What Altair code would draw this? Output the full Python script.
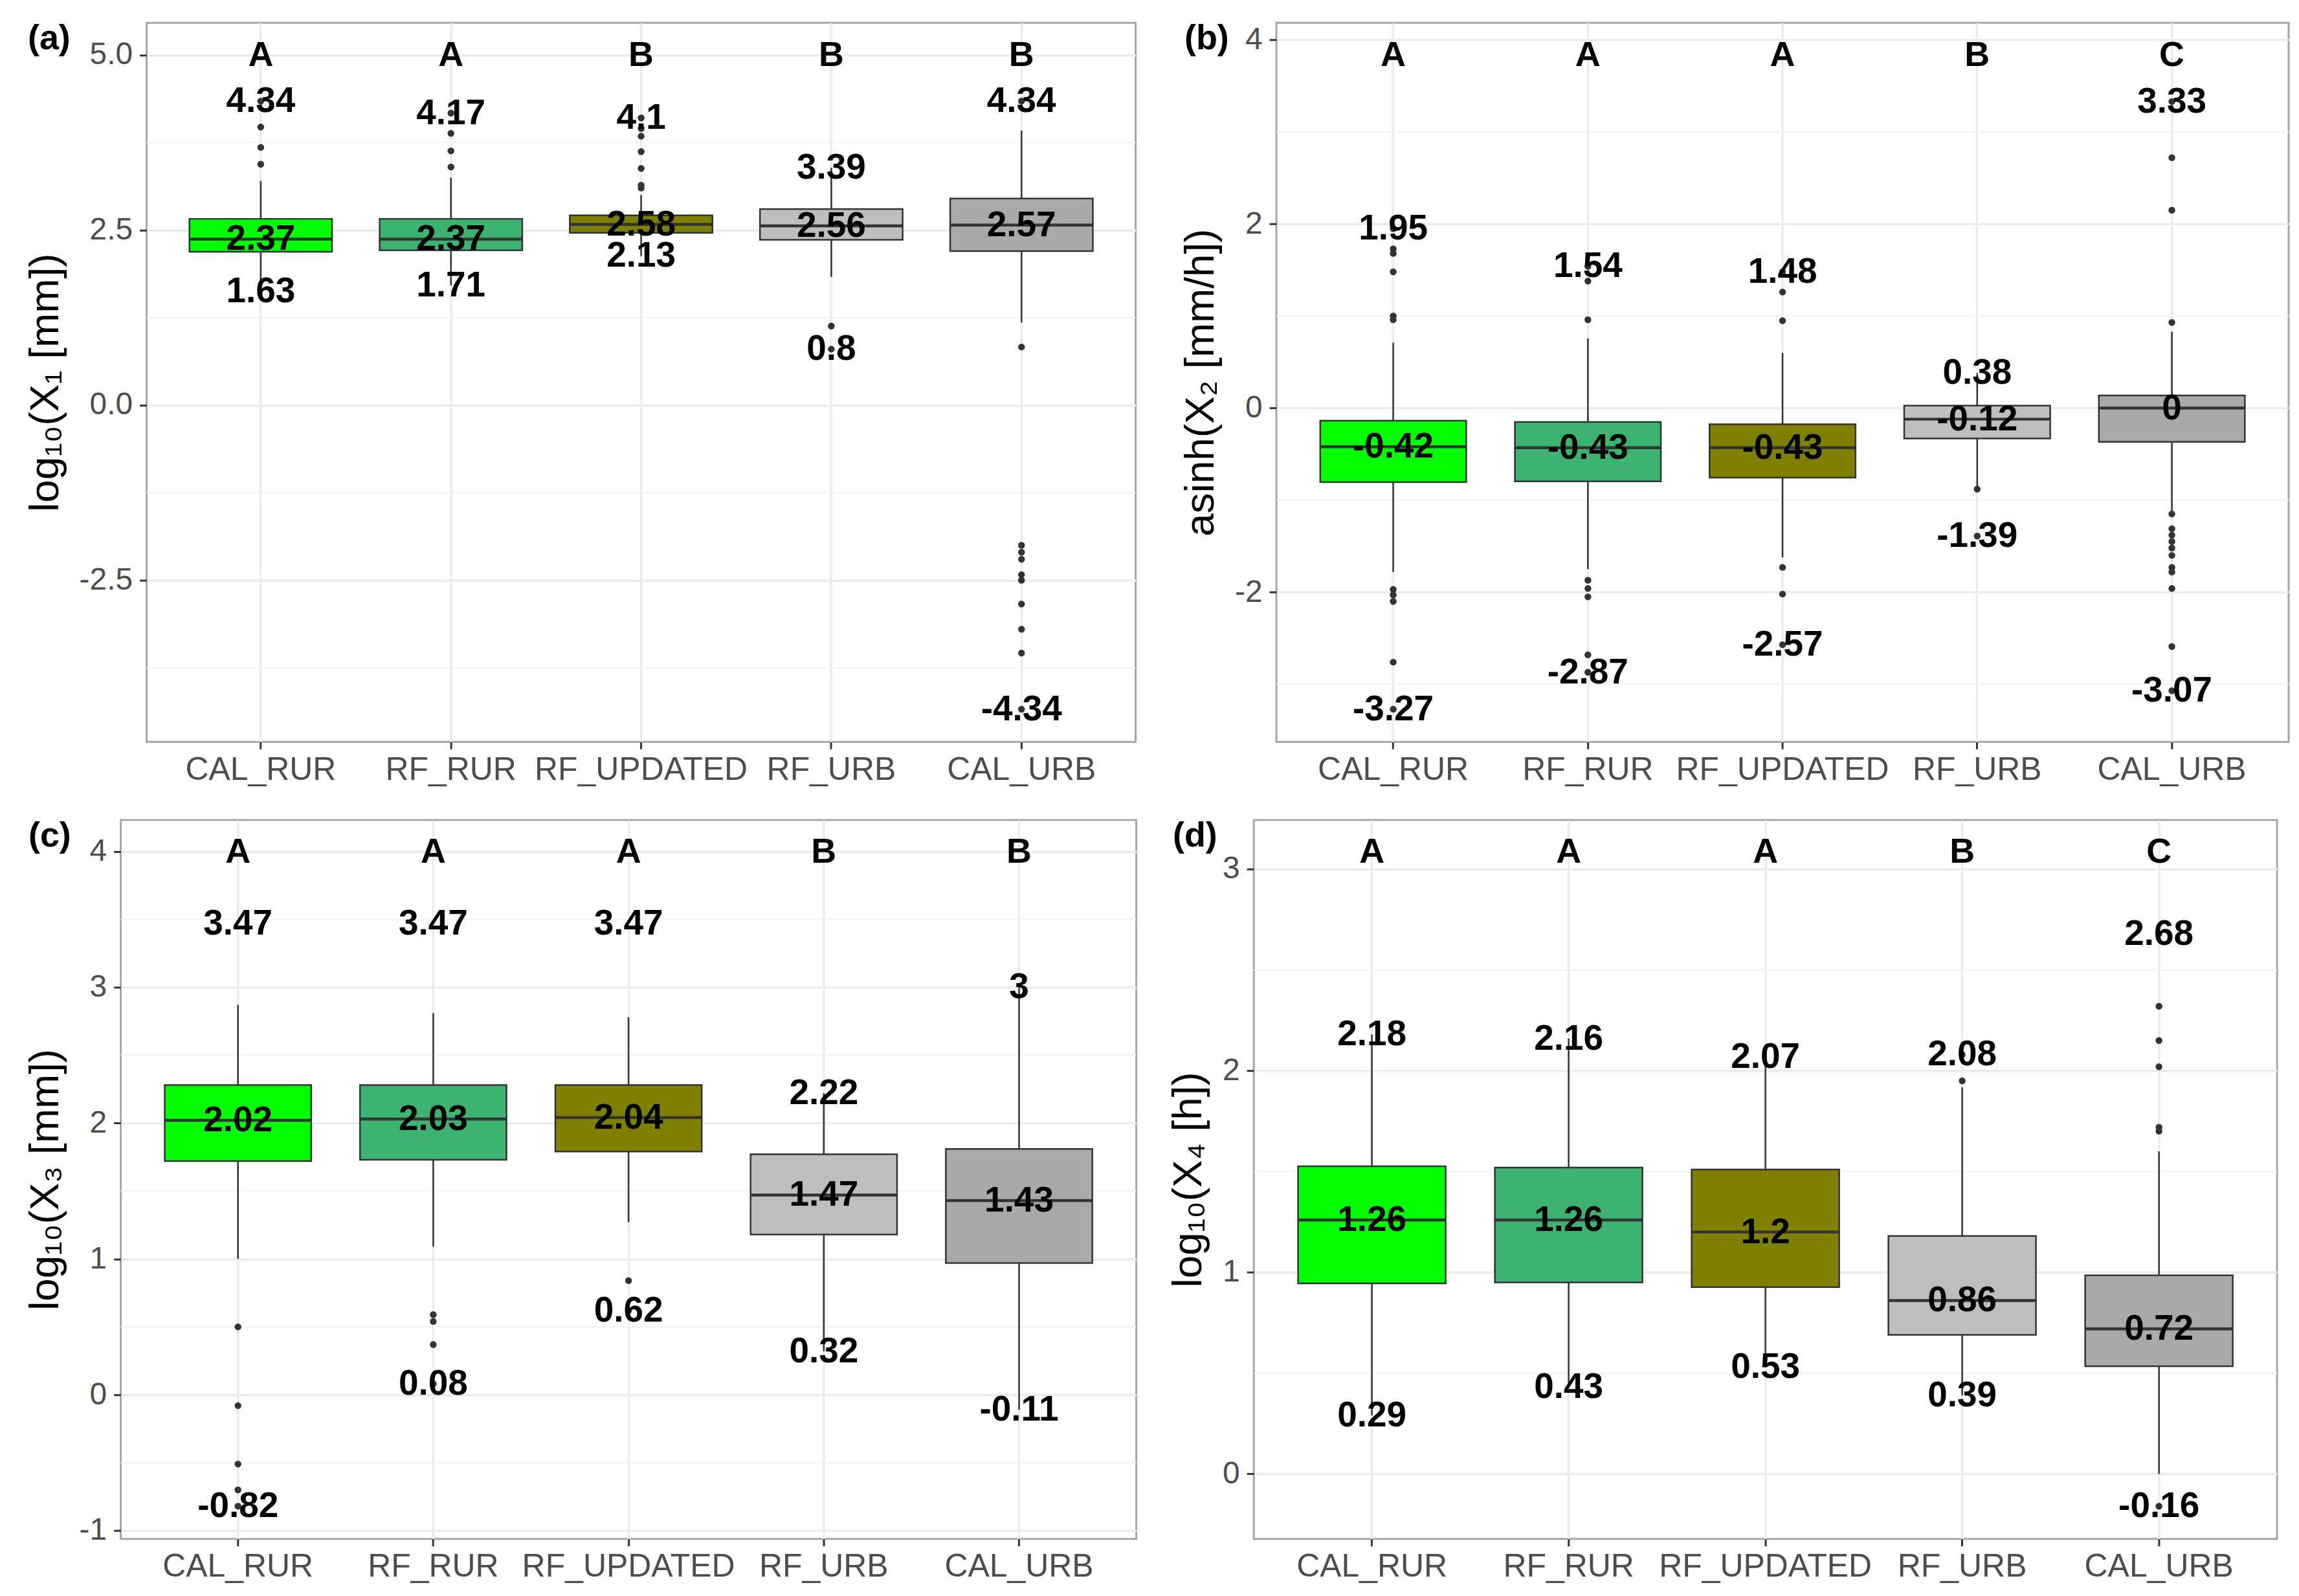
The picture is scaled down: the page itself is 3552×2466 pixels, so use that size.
import altair as alt
import pandas as pd

CATS = ["CAL_RUR", "RF_RUR", "RF_UPDATED", "RF_URB", "CAL_URB"]
COLORS = ["#00FF00", "#3CB371", "#808000", "#BEBEBE", "#A9A9A9"]
TAGS = ["(a)", "(b)", "(c)", "(d)"]
YTITLES = ["log\u2081\u2080(X\u2081 [mm])", "asinh(X\u2082 [mm/h])",
           "log\u2081\u2080(X\u2083 [mm])", "log\u2081\u2080(X\u2084 [h])"]

# ---- panel (a)
A_LET = ["A", "A", "B", "B", "B"]
A_Q1 = [2.19, 2.21, 2.46, 2.36, 2.20]
A_MED = [2.37, 2.37, 2.58, 2.56, 2.57]
A_Q3 = [2.66, 2.66, 2.71, 2.80, 2.95]
A_WLO = [1.63, 1.71, 2.13, 1.83, 1.18]
A_WHI = [3.20, 3.25, 3.00, 3.39, 3.92]
A_MAX = [4.34, 4.17, 4.10, 3.39, 4.34]
A_MIN = [1.63, 1.71, 2.13, 0.80, -4.34]
A_OUT_CAT = ["CAL_RUR"] * 4 + ["RF_RUR"] * 4 + ["RF_UPDATED"] * 7 + ["RF_URB"] * 2 + ["CAL_URB"] * 11
A_OUT_VAL = [3.44, 3.68, 3.97, 4.34,
             3.40, 3.63, 3.88, 4.17,
             3.10, 3.14, 3.38, 3.62, 3.84, 3.95, 4.10,
             1.13, 0.80,
             4.34, 0.83, -2.0, -2.1, -2.2, -2.42, -2.5, -2.84, -3.2, -3.54, -4.34]
A_TICKS = [-2.5, 0.0, 2.5, 5.0]
A_MINOR = [-3.75, -1.25, 1.25, 3.75]

# ---- panel (b)
B_LET = ["A", "A", "A", "B", "C"]
B_Q1 = [-0.805, -0.795, -0.756, -0.33, -0.367]
B_MED = [-0.42, -0.43, -0.43, -0.12, 0.0]
B_Q3 = [-0.137, -0.15, -0.175, 0.027, 0.137]
B_WLO = [-1.78, -1.75, -1.62, -0.85, -1.12]
B_WHI = [0.71, 0.756, 0.60, 0.38, 0.83]
B_MAX = [1.95, 1.54, 1.48, 0.38, 3.33]
B_MIN = [-3.27, -2.87, -2.57, -1.39, -3.07]
B_OUT_CAT = ["CAL_RUR"] * 11 + ["RF_RUR"] * 8 + ["RF_UPDATED"] * 6 + ["RF_URB"] * 2 + ["CAL_URB"] * 15
B_OUT_VAL = [1.95, 1.73, 1.68, 1.48, 1.0, 0.96, -1.97, -2.03, -2.1, -2.76, -3.27,
             1.54, 1.38, 0.96, -1.87, -1.96, -2.05, -2.68, -2.87,
             1.48, 1.26, 0.95, -1.73, -2.02, -2.57,
             -0.88, -1.39,
             3.33, 2.72, 2.15, 0.93, -1.15, -1.31, -1.38, -1.45, -1.52, -1.6, -1.73, -1.78, -1.96, -2.59, -3.07]
B_TICKS = [-2, 0, 2, 4]
B_MINOR = [-3, -1, 1, 3]

# ---- panel (c)
C_LET = ["A", "A", "A", "B", "B"]
C_Q1 = [1.72, 1.73, 1.79, 1.18, 0.97]
C_MED = [2.02, 2.03, 2.04, 1.47, 1.43]
C_Q3 = [2.28, 2.28, 2.28, 1.77, 1.81]
C_WLO = [1.0, 1.09, 1.27, 0.32, -0.11]
C_WHI = [2.87, 2.81, 2.78, 2.22, 3.0]
C_MAX = [3.47, 3.47, 3.47, 2.22, 3.0]
C_MIN = [-0.82, 0.08, 0.62, 0.32, -0.11]
C_OUT_CAT = ["CAL_RUR"] * 5 + ["RF_RUR"] * 4 + ["RF_UPDATED"] * 2
C_OUT_VAL = [0.5, -0.08, -0.51, -0.70, -0.82,
             0.59, 0.54, 0.37, 0.08,
             0.84, 0.62]
C_TICKS = [-1, 0, 1, 2, 3, 4]
C_MINOR = [-0.5, 0.5, 1.5, 2.5, 3.5]

# ---- panel (d)
D_LET = ["A", "A", "A", "B", "C"]
D_Q1 = [0.945, 0.95, 0.927, 0.69, 0.534]
D_MED = [1.26, 1.26, 1.2, 0.86, 0.72]
D_Q3 = [1.526, 1.52, 1.51, 1.18, 0.985]
D_WLO = [0.29, 0.43, 0.53, 0.39, 0.0]
D_WHI = [2.18, 2.16, 2.07, 1.917, 1.60]
D_MAX = [2.18, 2.16, 2.07, 2.08, 2.68]
D_MIN = [0.29, 0.43, 0.53, 0.39, -0.16]
D_OUT_CAT = ["RF_URB"] * 2 + ["CAL_URB"] * 7
D_OUT_VAL = [1.95, 2.08, 1.70, 1.72, 2.02, 2.15, 2.32, 2.68, -0.16]
D_TICKS = [0, 1, 2, 3]
D_MINOR = [0.5, 1.5, 2.5]

FONT = "Liberation Sans"
INK = "#333333"


def lab(v):
    return f"{v:g}"


def panel(tag, ytitle, letters, q1, med, q3, wlo, whi, mx, mn, ocat, oval,
          ticks, minor, fmt, width, height, tag_x, tag_y):
    top = 1.15 * max(mx)
    bottom = min(mn)
    span = top - bottom
    domain = [bottom - 0.05 * span, top + 0.05 * span]

    df = pd.DataFrame({
        "cat": CATS, "q1": q1, "med": med, "q3": q3, "wlo": wlo, "whi": whi,
        "mx": mx, "mn": mn, "letter": letters,
        "mx_lab": [lab(v) for v in mx], "mn_lab": [lab(v) for v in mn],
        "med_lab": [lab(v) for v in med],
        "ltr_y": [top] * len(CATS),
    })
    odf = pd.DataFrame({"cat": ocat, "val": oval})
    mdf = pd.DataFrame({"m": minor})
    tdf = pd.DataFrame({"t": [tag]})

    yscale = alt.Scale(domain=domain, nice=False, zero=False)
    yaxis = alt.Axis(values=ticks, title=ytitle, grid=True,
                     labelExpr=f"replace(format(datum.value, '{fmt}'), '\u2212', '-')")
    xscale = alt.Scale(domain=CATS, paddingInner=0.25, paddingOuter=0.225)
    xaxis = alt.Axis(title=None, labelAngle=0, grid=True, bandPosition=0.5,
                     labelLimit=600, labelPadding=7, labelFontSize=50)
    xs = alt.X("cat:N", sort=CATS, scale=xscale, axis=xaxis)

    def ys(f):
        return alt.Y(f"{f}:Q", scale=yscale, axis=yaxis)

    bw = width / 5.2 * 0.75

    minor_layer = alt.Chart(mdf).mark_rule(color="#F2F2F2", strokeWidth=2).encode(y=ys("m"))
    box = alt.Chart(df).mark_bar(stroke=INK, strokeWidth=2.5).encode(
        x=xs, y=ys("q1"), y2="q3:Q",
        color=alt.Color("cat:N", scale=alt.Scale(domain=CATS, range=COLORS), legend=None),
    )
    wl = alt.Chart(df).mark_rule(color=INK, strokeWidth=2.5).encode(x=xs, y=ys("wlo"), y2="q1:Q")
    wh = alt.Chart(df).mark_rule(color=INK, strokeWidth=2.5).encode(x=xs, y=ys("q3"), y2="whi:Q")
    medl = alt.Chart(df).mark_tick(color=INK, thickness=4.5, size=bw, opacity=1).encode(
        x=xs, y=ys("med"))
    pts = alt.Chart(odf).mark_circle(color=INK, size=110, opacity=1).encode(x=xs, y=ys("val"))

    def txt(field, yfield, size):
        return alt.Chart(df).mark_text(font=FONT, fontWeight="bold", fontSize=size,
                                       color="black", align="center", baseline="middle").encode(
            x=xs, y=ys(yfield), text=f"{field}:N")

    tagl = alt.Chart(tdf).mark_text(font=FONT, fontWeight="bold", fontSize=54, color="black",
                                    align="center", baseline="middle").encode(
        x=alt.value(tag_x), y=alt.value(tag_y), text="t:N")

    return alt.layer(
        minor_layer, wl, wh, box, medl, pts,
        txt("mx_lab", "mx", 55), txt("mn_lab", "mn", 55), txt("med_lab", "med", 55),
        txt("letter", "ltr_y", 54), tagl,
    ).properties(width=width, height=height)


def spacer():
    return alt.Chart(pd.DataFrame({"z": [0]})).mark_point(opacity=0).encode(
        x=alt.value(0), y=alt.value(0)
    ).properties(width=1, height=1, view=alt.ViewBackground(stroke="transparent"))


pa = panel(TAGS[0], YTITLES[0], A_LET, A_Q1, A_MED, A_Q3, A_WLO, A_WHI, A_MAX, A_MIN,
           A_OUT_CAT, A_OUT_VAL, A_TICKS, A_MINOR, ".1f", 1531, 1113, -151, 25)
pb = panel(TAGS[1], YTITLES[1], B_LET, B_Q1, B_MED, B_Q3, B_WLO, B_WHI, B_MAX, B_MIN,
           B_OUT_CAT, B_OUT_VAL, B_TICKS, B_MINOR, "d", 1567, 1113, -108, 25)
pc = panel(TAGS[2], YTITLES[2], C_LET, C_Q1, C_MED, C_Q3, C_WLO, C_WHI, C_MAX, C_MIN,
           C_OUT_CAT, C_OUT_VAL, C_TICKS, C_MINOR, "d", 1572, 1113, -110, 25)
pd_ = panel(TAGS[3], YTITLES[3], D_LET, D_Q1, D_MED, D_Q3, D_WLO, D_WHI, D_MAX, D_MIN,
            D_OUT_CAT, D_OUT_VAL, D_TICKS, D_MINOR, "d", 1584, 1113, -91, 25)

row1 = alt.hconcat(alt.hconcat(spacer(), pa, spacing=0), pb, spacing=64)
row2 = alt.hconcat(alt.hconcat(spacer(), pc, spacing=0), pd_, spacing=44)

chart = alt.vconcat(row1, row2, spacing=46).properties(
    padding={"left": 18, "top": 20, "right": 5, "bottom": 5},
    background="white",
).configure_view(
    stroke="#A6A6A6", strokeWidth=3
).configure_axis(
    domain=False, tickColor=INK, tickSize=11, tickWidth=3,
    labelFont=FONT, labelFontSize=48, labelColor="#4D4D4D", labelPadding=11,
    titleFont=FONT, titleFontSize=64, titleFontWeight="normal", titleColor="black",
    titlePadding=20, gridColor="#EBEBEB", gridWidth=3.5,
)

chart.save("out.html", embed_options={"renderer": "svg", "actions": False})
